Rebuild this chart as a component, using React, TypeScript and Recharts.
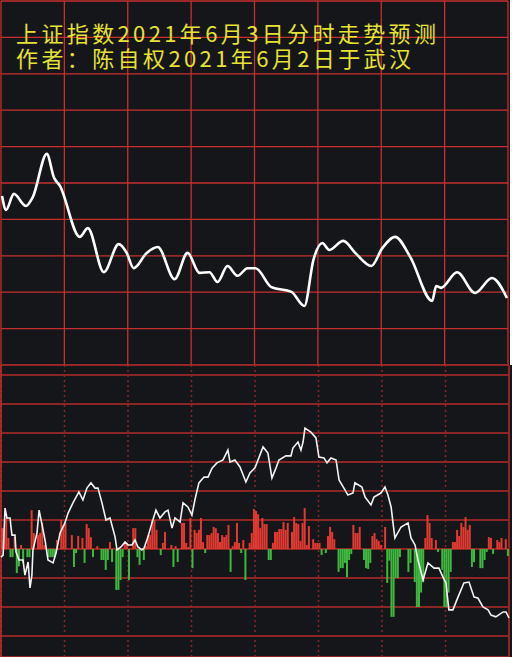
import React from "react";
import {
  LineChart,
  Line,
  BarChart,
  Bar,
  Cell,
  XAxis,
  YAxis,
  CartesianGrid,
  ReferenceLine,
} from "recharts";

// title text
const titleLine1 = "上证指数2021年6月3日分时走势预测";
const titleLine2 = "作者：陈自权2021年6月2日于武汉";

// axes
const minuteTicks = [0, 30, 60, 90, 120, 150, 180, 210, 240];
const priceTicks = [3540, 3550, 3560, 3570, 3580, 3590, 3600, 3610, 3620, 3630, 3640];
const flowTicks = [-3, -2, -1, 0, 1, 2, 3, 4, 5, 6];

// top panel: forecast curve (minute, index)
const trendTimes = [
  0.5, 2.4, 6.1, 11.8, 15.1, 21.7, 25.0, 27.9, 37.3, 41.1, 48.7, 55.7, 59.5, 62.8, 69.0,
  74.2, 82.2, 88.3, 94.0, 98.7, 102.5, 107.2, 112.0, 116.7, 120.5, 128.0, 137.5, 143.6,
  147.9, 152.1, 155.4, 162.0, 167.7, 175.3, 180.5, 186.6, 193.7, 204.1, 206.0, 208.3,
  215.9, 224.4, 232.4, 239.5,
];
const trendPrices = [
  3586.4, 3582.6, 3587.0, 3583.7, 3586.2, 3598.0, 3591.6, 3589.2, 3575.2, 3577.6, 3565.5,
  3573.2, 3570.8, 3566.6, 3570.8, 3572.4, 3563.6, 3570.8, 3565.3, 3565.5, 3562.8, 3567.2,
  3564.5, 3566.6, 3566.6, 3561.4, 3560.1, 3556.2, 3568.9, 3573.5, 3571.6, 3574.1, 3570.8,
  3567.2, 3572.1, 3575.2, 3569.7, 3557.6, 3561.7, 3561.2, 3565.5, 3559.8, 3563.9, 3558.4,
];

// bottom panel: jagged white line (minute, value)
const flowTimes = [
  0, 1, 1.9, 2.8, 4.3, 4.7, 5.2, 6.6, 7.1, 8.5, 10.4, 11.3, 12.8, 13.7, 14.6, 15.1, 17.0,
  18.0, 19.4, 20.8, 22.2, 24.6, 26.0, 27.9, 30.2, 31.7, 34.0, 36.8, 38.7, 40.6, 42.5, 44.4,
  45.8, 47.7, 49.6, 51.5, 53.9, 54.8, 56.7, 58.6, 60.0, 61.9, 63.3, 64.7, 66.6, 67.6, 69.4,
  71.3, 73.2, 75.1, 77.5, 78.9, 80.8, 82.2, 84.6, 86.0, 88.3, 90.2, 91.6, 93.5, 95.9, 97.8,
  99.7, 102.0, 104.9, 107.2, 108.2, 110.5, 112.9, 115.7, 117.6, 120.0, 123.8, 126.1, 128.0,
  129.9, 131.3, 134.6, 137.0, 137.9, 140.3, 141.7, 142.7, 143.6, 146.4, 148.8, 150.2, 152.6,
  154.0, 155.9, 158.3, 159.7, 162.0, 163.9, 166.3, 167.2, 170.5, 172.0, 174.8, 176.2, 179.5,
  181.4, 182.8, 184.3, 185.2, 186.1, 189.0, 192.3, 193.7, 195.6, 197.0, 199.4, 201.7, 204.6,
  206.9, 208.8, 210.2, 211.6, 213.5, 215.9, 218.7, 221.1, 223.5, 225.3, 227.7, 230.1, 231.5,
  233.8, 237.2, 238.6, 240.0,
];
const flowValues = [
  -0.28, -0.21, 1.41, 1.07, 1.07, 0.76, 0.48, 0.48, -0.1, -0.38, -0.38, -0.9, -0.45, -1.34,
  -0.9, -0.03, 0.55, 1.34, 0.83, 0.31, -0.38, -0.48, -0.14, 0.55, 0.9, 1.24, 1.59, 1.97, 1.69,
  2.1, 2.28, 2.1, 2.1, 1.59, 1.0, 1.07, 0.41, -0.03, 0.07, 0.24, 0.14, 0.14, 0.31, 0.07, -0.03,
  0.03, 0.41, 0.9, 1.34, 1.07, 1.28, 1.34, 0.72, 1.07, 0.93, 1.59, 1.45, 1.17, 1.69, 2.28, 2.48,
  2.48, 2.79, 2.97, 3.07, 3.41, 3.0, 3.07, 2.83, 2.31, 2.62, 2.8, 3.52, 3.31, 2.45, 2.79, 3.07,
  3.21, 3.21, 3.48, 3.69, 3.41, 3.69, 4.17, 4.03, 3.83, 3.17, 3.14, 2.97, 3.14, 3.07, 2.38, 2.1,
  1.86, 1.93, 2.28, 2.14, 1.79, 1.52, 1.79, 1.93, 2.14, 1.86, 1.45, 0.9, 0.38, 0.76, 0.9, 0.38,
  0.14, -0.38, -1.07, -0.48, -0.66, -0.66, -0.97, -1.17, -2.1, -2.1, -1.66, -1.17, -1.14, -1.66,
  -1.69, -2.0, -2.1, -2.28, -2.34, -2.17, -2.17, -2.38,
];

// bottom panel bars, one per minute
const amBars = [
  0.72, 0.72, 1.07, 0.38, -0.28, -0.28, 0.41, -0.83, -0.6, 0.14,
  -0.48, 0, -0.28, -0.28, 1.34, 0.55, 0, 0.48, 0.55, 0.9,
  0.14, 0, -0.28, -0.28, -0.28, -0.28, 0.31, 0, 1.0, 0.83,
  0.9, 0, 0, 0.48, -0.62, -0.14, 0.45, 0, 0.38, -0.48,
  0.86, 0.72, 0.41, -0.28, 0, 0.1, 0, -0.38, -0.38, -0.72,
  -0.38, 0.24, -0.45, 0, -1.41, -1.41, -1.07, -0.28, 0.21, 0.21,
  -1.07, 0, 0.72, 0.72, -0.28, -0.55, 0, -0.38, 0.1, 0.48,
  0.48, 1.0, 1.0, 0.66, 0, -0.21, 0.21, 0.59, 0, 0,
  0.14, -0.62, 0.1, -0.45, 0, 0.9, 0.9, 0.21, 0.07, 1.07,
  -0.66, 0.66, 0.55, 0.66, 1.07, 0.24, -0.14, 0.48, 0.48, 0.55,
  0.76, 0.72, 0.55, 0.24, 0.48, 0.41, 0.48, 0.83, -0.79, 0.1,
  0.24, 0.9, 0.21, -0.14, 0.31, -1.07, 0, 0.21, 0.55, 1.38,
];
const pmBars = [
  1.31, 1.2, 0.72, 1.07, 0.86, 0.86, -0.38, -0.38, 0.21, 0.59,
  0.59, 0.69, 0.69, 0.93, 0.66, 0.9, 0, 0.59, 1.1, 0.9,
  0.86, 0.28, 0.9, 1.41, 0.14, 0.79, 0, 0.34, 0.21, 0.21,
  0.21, -0.21, 0, -0.14, 0.45, 0.76, 0.59, 0.34, 0, -0.79,
  -0.66, -0.66, -0.48, -0.97, -0.38, -0.17, 0.83, 0.55, 0.55, 0.76,
  0, -0.38, -0.66, -0.69, -0.48, 0.45, 0.55, 0.34, 0.28, 0.14,
  0, 0.76, -1.17, -0.4, -2.34, -2.34, -1.0, -1.0, -0.28, 0,
  0, 0, -0.79, -0.48, 0, -1.14, -2.0, -2.0, -1.5, -1.14,
  0.38, 1.17, 0.9, 0.38, 0, 0.31, -0.1, 0, -0.72, -2.0,
  -2.0, -1.5, -0.79, 0.24, 0.24, 0.66, 0.45, 0.9, 0.76, 1.1,
  0.66, 0.83, -0.62, -0.45, 0, 0, -0.66, -0.66, -0.38, -0.1,
  0.41, 0.38, -0.17, 0, 0.31, 0.24, 0.38, 0, 0.34, -0.24,
];

const BG = "#151619";
const TOP_GRID = "#c62f2f";
const LOW_GRID = "#8c2626";
const YELLOW = "#e6e235";
const UP = "#e23a32";
const DOWN = "#3fb83f";

const trendData = trendTimes.map((t, i) => ({ t, price: trendPrices[i] }));
const flowData = flowTimes.map((t, i) => ({ t, v: flowValues[i] }));
const barData = [...amBars, ...pmBars].map((v, i) => ({ m: i, v }));

const flowDomain = [-3.724, 6.345];

export default function App() {
  return (
    <div style={{ position: "absolute", left: 0, top: 0, width: 512, height: 657, background: "#fff" }}>
      {/* top panel */}
      <div style={{ position: "absolute", left: 0, top: 0, width: 510, height: 366, background: BG }}>
        <LineChart width={510} height={366} data={trendData} margin={{ top: 1, right: 2, bottom: 1, left: 1 }}>
          <CartesianGrid stroke={TOP_GRID} strokeWidth={1.3} />
          <XAxis dataKey="t" type="number" domain={[0, 240]} ticks={minuteTicks} hide />
          <YAxis type="number" domain={[3540, 3640]} ticks={priceTicks} hide />
          <Line
            dataKey="price"
            type="monotone"
            stroke="#ffffff"
            strokeWidth={2.6}
            dot={false}
            isAnimationActive={false}
          />
        </LineChart>
      </div>

      {/* bottom panel */}
      <div style={{ position: "absolute", left: 0, top: 365, width: 512, height: 292, background: BG }}>
        <div style={{ position: "absolute", left: 0, top: 0 }}>
          <LineChart width={512} height={292} data={flowData} margin={{ top: 0, right: 3, bottom: 0, left: 1 }}>
            <CartesianGrid horizontal vertical={false} stroke={LOW_GRID} strokeWidth={2} />
            <CartesianGrid horizontal={false} vertical stroke={LOW_GRID} strokeWidth={1.5} strokeDasharray="2 3" />
            <XAxis dataKey="t" type="number" domain={[0, 240]} ticks={minuteTicks} hide />
            <YAxis type="number" domain={flowDomain} ticks={flowTicks} allowDataOverflow hide />
            <ReferenceLine x={0} stroke={TOP_GRID} strokeWidth={1.5} />
            <ReferenceLine x={240} stroke={LOW_GRID} strokeWidth={2} />
          </LineChart>
        </div>
        <div style={{ position: "absolute", left: 0, top: 0 }}>
          <BarChart
            width={512}
            height={292}
            data={barData}
            margin={{ top: 0, right: 3, bottom: 0, left: 1 }}
            barCategoryGap={0}
          >
            <XAxis dataKey="m" type="category" hide />
            <YAxis type="number" domain={flowDomain} allowDataOverflow hide />
            <Bar dataKey="v" barSize={2} isAnimationActive={false}>
              {barData.map((d, i) => (
                <Cell key={i} fill={d.v >= 0 ? UP : DOWN} />
              ))}
            </Bar>
          </BarChart>
        </div>
        <div style={{ position: "absolute", left: 0, top: 0 }}>
          <LineChart width={512} height={292} data={flowData} margin={{ top: 0, right: 3, bottom: 0, left: 1 }}>
            <XAxis dataKey="t" type="number" domain={[0, 240]} hide />
            <YAxis type="number" domain={flowDomain} allowDataOverflow hide />
            <Line
              dataKey="v"
              type="linear"
              stroke="#f2f2f2"
              strokeWidth={1.6}
              dot={false}
              isAnimationActive={false}
            />
          </LineChart>
        </div>
      </div>

      {/* title */}
      <svg
        width={512}
        height={80}
        style={{ position: "absolute", left: 0, top: 0, pointerEvents: "none" }}
      >
        <text
          x={16}
          y={42}
          fontSize={22}
          fill={YELLOW}
          fontFamily="'Noto Sans CJK SC'"
          textLength={420}
          lengthAdjust="spacing"
        >
          {titleLine1}
        </text>
        <text
          x={16}
          y={67}
          fontSize={22}
          fill={YELLOW}
          fontFamily="'Noto Sans CJK SC'"
          textLength={395}
          lengthAdjust="spacing"
        >
          {titleLine2}
        </text>
      </svg>
    </div>
  );
}
